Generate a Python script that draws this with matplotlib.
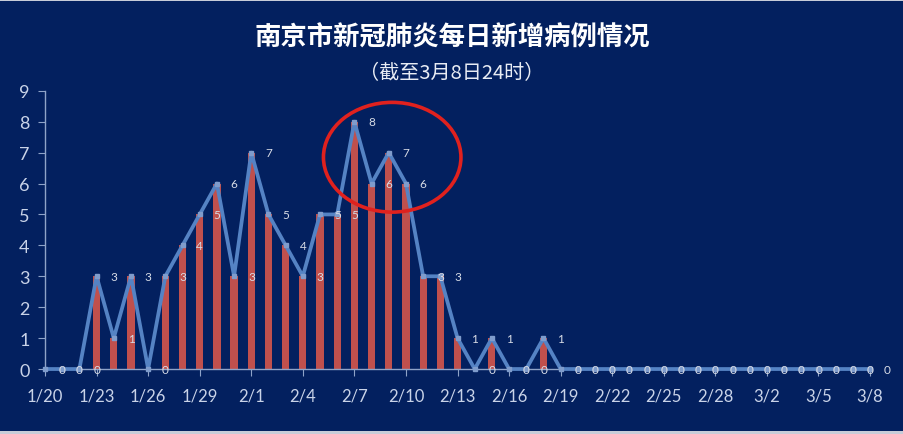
import numpy as np
import matplotlib
matplotlib.use("Agg")
import matplotlib.pyplot as plt
from matplotlib.patches import Ellipse, Rectangle

plt.rcParams['font.family'] = ['Lato', 'Noto Sans CJK SC', 'DejaVu Sans']

# daily dates 1/20 .. 3/8 (2020, leap year)
dates = ([f"1/{d}" for d in range(20, 32)] +
         [f"2/{d}" for d in range(1, 30)] +
         [f"3/{d}" for d in range(1, 9)])

new_cases = [0, 0, 0, 3, 1, 3, 0, 3, 4, 5, 6, 3,      # 1/20 - 1/31
             7, 5, 4, 3, 5, 5, 8, 6, 7, 6, 3, 3, 1,   # 2/1 - 2/13
             0, 1, 0, 0, 1, 0, 0, 0, 0, 0, 0, 0, 0,   # 2/14 - 2/26
             0, 0, 0, 0, 0, 0, 0, 0, 0, 0, 0]         # 2/27 - 3/8

title = "南京市新冠肺炎每日新增病例情况"
subtitle = "（截至3月8日24时）"

bg = '#03205f'
bar_color = '#c0504d'
line_color = '#5583c4'
text_color = '#c9d3e8'

x = np.arange(len(dates))

fig = plt.figure(figsize=(9.04, 4.35), dpi=100)
fig.set_facecolor(bg)
# thin light strips at top and bottom edge of the screenshot
fig.patches.append(Rectangle((0, 0.995), 1, 0.005, transform=fig.transFigure,
                             facecolor='#c8ccd8', edgecolor='none'))
fig.patches.append(Rectangle((0, 0), 1, 0.007, transform=fig.transFigure,
                             facecolor='#c8ccd8', edgecolor='none'))

ax = fig.add_axes([0.0498, 0.1494, 0.9126, 0.6396])
ax.set_facecolor(bg)

ax.bar(x, new_cases, width=0.42, color=bar_color, zorder=2)
ax.plot(x, new_cases, color=line_color, linewidth=2.7, marker='s',
        markersize=3.5, markerfacecolor='#7f9ccc', markeredgecolor='#7f9ccc',
        zorder=3, clip_on=False)

for xi, v in zip(x, new_cases):
    ax.annotate(str(v), (xi, v), xytext=(10, 0), textcoords='offset points',
                ha='left', va='center', fontsize=8.5, color='#d8dce6',
                zorder=4, annotation_clip=False)

ax.set_xlim(0, len(dates) - 1)
ax.set_ylim(0, 9)
ax.set_yticks(range(0, 10))
ax.set_xticks(x[::3])
ax.set_xticklabels(dates[::3])

for side in ['top', 'right']:
    ax.spines[side].set_visible(False)
for side in ['left', 'bottom']:
    ax.spines[side].set_color('#8fa3c8')
    ax.spines[side].set_linewidth(1.0)

ax.tick_params(axis='y', colors='#8fa3c8', labelcolor=text_color,
               labelsize=13, length=5, pad=6)
ax.tick_params(axis='x', colors='#8fa3c8', labelcolor=text_color,
               labelsize=12, length=5, pad=8)

# red ellipse around the peak days
peak = int(np.argmax(new_cases))
ax.add_patch(Ellipse((peak + 2.2, 6.85), width=8.0, height=3.55, fill=False,
                     edgecolor='#e0211e', linewidth=2.6, zorder=5, clip_on=False))

fig.text(0.5, 0.913, title, ha='center', va='center', fontsize=19,
         fontweight='bold', color='white', family=['Noto Sans CJK SC'])
fig.text(0.5, 0.832, subtitle, ha='center', va='center', fontsize=14.5,
         color='#e8ecf4', family=['Noto Sans CJK SC'])

fig.savefig('out.png', dpi=100, facecolor=bg)
